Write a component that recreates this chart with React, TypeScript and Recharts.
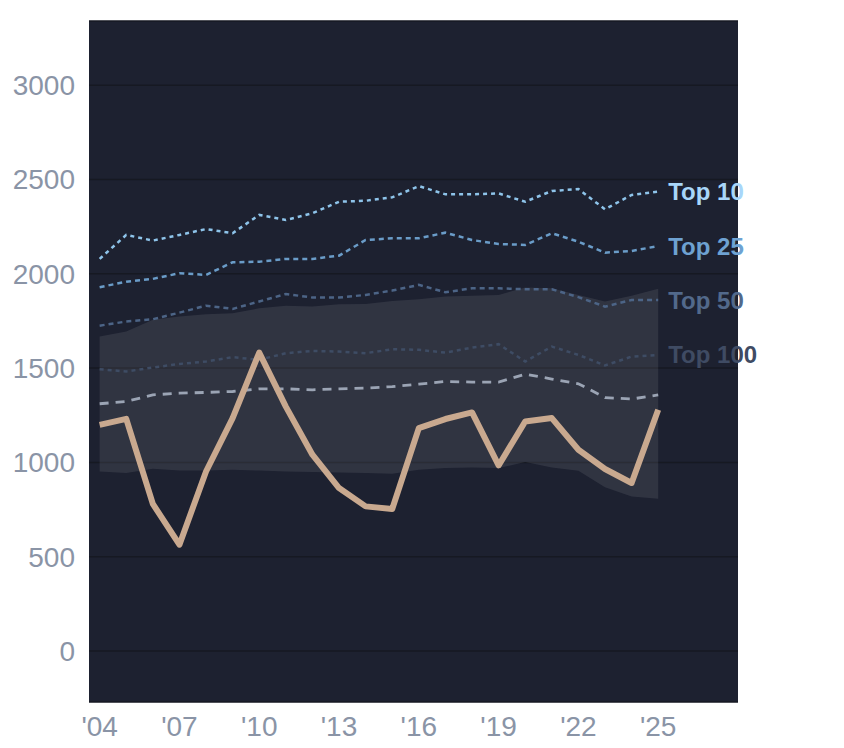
import React from "react";
import {
  ComposedChart,
  Line,
  Area,
  XAxis,
  YAxis,
  CartesianGrid,
  LabelList,
} from "recharts";

const years = [2004, 2005, 2006, 2007, 2008, 2009, 2010, 2011, 2012, 2013, 2014, 2015, 2016, 2017, 2018, 2019, 2020, 2021, 2022, 2023, 2024, 2025];

const mainValues = [1199, 1231, 780, 564, 952, 1235, 1582, 1296, 1041, 864, 767, 753, 1182, 1230, 1265, 984, 1217, 1235, 1067, 965, 891, 1279];
const bandLow = [952, 944, 966, 957, 957, 961, 957, 952, 949, 947, 944, 940, 961, 970, 973, 970, 1002, 973, 956, 868, 820, 808];
const bandHigh = [1667, 1694, 1756, 1773, 1786, 1791, 1817, 1831, 1826, 1839, 1840, 1856, 1865, 1879, 1883, 1888, 1927, 1923, 1888, 1853, 1883, 1921];
const top10 = [2079, 2206, 2176, 2206, 2237, 2215, 2312, 2285, 2321, 2382, 2387, 2405, 2465, 2421, 2421, 2426, 2382, 2439, 2449, 2342, 2418, 2435];
const top25 = [1929, 1958, 1973, 2003, 1994, 2061, 2064, 2079, 2079, 2096, 2179, 2188, 2188, 2218, 2179, 2158, 2153, 2215, 2170, 2112, 2121, 2147];
const top50 = [1725, 1747, 1759, 1794, 1831, 1814, 1853, 1893, 1874, 1874, 1888, 1911, 1941, 1902, 1923, 1923, 1918, 1918, 1876, 1826, 1861, 1861];
const top100 = [1494, 1482, 1503, 1522, 1535, 1558, 1544, 1579, 1591, 1588, 1579, 1600, 1597, 1582, 1609, 1627, 1535, 1614, 1570, 1514, 1561, 1570];
const median = [1311, 1323, 1358, 1367, 1371, 1376, 1390, 1390, 1385, 1390, 1394, 1402, 1415, 1429, 1426, 1426, 1468, 1442, 1417, 1344, 1336, 1358];

const xTicks = [2004, 2007, 2010, 2013, 2016, 2019, 2022, 2025];
const yTicks = [0, 500, 1000, 1500, 2000, 2500, 3000];

const data = years.map((year, i) => ({
  year,
  main: mainValues[i],
  band: [bandLow[i], bandHigh[i]],
  top10: top10[i],
  top25: top25[i],
  top50: top50[i],
  top100: top100[i],
  median: median[i],
}));

const FONT = "'Liberation Sans', Arial, Helvetica, sans-serif";
const TICK_COLOR = "#8a94a6";
const LAST = years.length - 1;

const endLabel = (text: string, color: string) => (props: any) => {
  const { x, y, index } = props;
  if (index !== LAST) return null;
  return (
    <text
      x={Number(x) + 10}
      y={Number(y)}
      dy="0.355em"
      fill={color}
      fontFamily={FONT}
      fontWeight="bold"
      fontSize={24}
      textAnchor="start"
    >
      {text}
    </text>
  );
};

export default function App() {
  return (
    <ComposedChart
      width={836}
      height={740}
      data={data}
      margin={{ top: 13, right: 106, bottom: 0, left: 0 }}
    >
      <CartesianGrid
        vertical={false}
        horizontal={true}
        fill="#1d2130"
        stroke="#161922"
        strokeWidth={1.5}
      />
      <XAxis
        dataKey="year"
        type="number"
        domain={[2003.6, 2028]}
        ticks={xTicks}
        tickFormatter={(v: number) => "'" + String(v).slice(2)}
        axisLine={false}
        tickLine={false}
        tickSize={0}
        tickMargin={14}
        height={46}
        allowDataOverflow
        tick={{ fill: TICK_COLOR, fontSize: 28, fontFamily: FONT }}
      />
      <YAxis
        type="number"
        domain={[-270, 3340]}
        ticks={yTicks}
        axisLine={false}
        tickLine={false}
        tickSize={0}
        tickMargin={14}
        width={81}
        allowDataOverflow
        tick={{ fill: TICK_COLOR, fontSize: 28, fontFamily: FONT }}
      />
      <Area
        dataKey="band"
        type="linear"
        stroke="none"
        fill="#ffffff"
        fillOpacity={0.085}
        isAnimationActive={false}
        dot={false}
        activeDot={false}
      />
      <Line
        dataKey="top100"
        type="linear"
        stroke="#3e4c64"
        strokeWidth={2.5}
        strokeDasharray="4 4"
        dot={false}
        activeDot={false}
        isAnimationActive={false}
      >
        <LabelList dataKey="top100" content={endLabel("Top 100", "#3f4b63")} />
      </Line>
      <Line
        dataKey="top50"
        type="linear"
        stroke="#4c6486"
        strokeWidth={2.5}
        strokeDasharray="5 4"
        dot={false}
        activeDot={false}
        isAnimationActive={false}
      >
        <LabelList dataKey="top50" content={endLabel("Top 50", "#52698b")} />
      </Line>
      <Line
        dataKey="top25"
        type="linear"
        stroke="#6a9cc8"
        strokeWidth={2.5}
        strokeDasharray="5 4"
        dot={false}
        activeDot={false}
        isAnimationActive={false}
      >
        <LabelList dataKey="top25" content={endLabel("Top 25", "#6ea2d2")} />
      </Line>
      <Line
        dataKey="top10"
        type="linear"
        stroke="#8ec4ea"
        strokeWidth={2.5}
        strokeDasharray="4 4"
        dot={false}
        activeDot={false}
        isAnimationActive={false}
      >
        <LabelList dataKey="top10" content={endLabel("Top 10", "#a8d6fa")} />
      </Line>
      <Line
        dataKey="median"
        type="linear"
        stroke="#9ba4b4"
        strokeWidth={2.8}
        strokeDasharray="9 7"
        dot={false}
        activeDot={false}
        isAnimationActive={false}
      />
      <Line
        dataKey="main"
        type="linear"
        stroke="#c9a98f"
        strokeWidth={6}
        strokeLinejoin="round"
        dot={false}
        activeDot={false}
        isAnimationActive={false}
      />
    </ComposedChart>
  );
}
